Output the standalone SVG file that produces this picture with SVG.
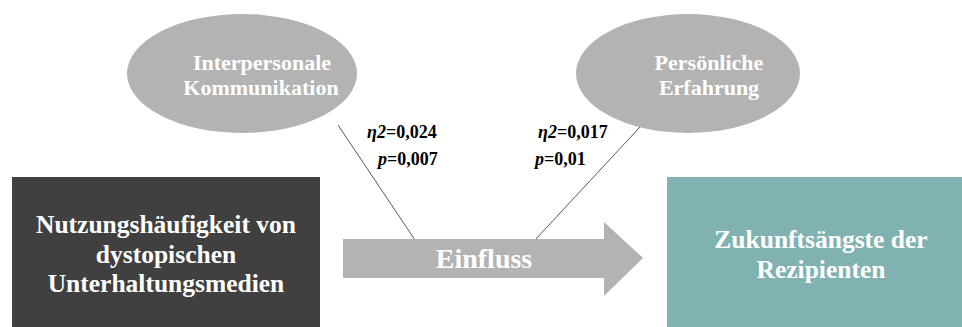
<svg xmlns="http://www.w3.org/2000/svg" width="962" height="327" viewBox="0 0 962 327">
<style>
.t{font-family:"Liberation Serif","Times New Roman",serif;font-weight:bold;text-anchor:middle}
.w{fill:#ffffff}
.ell{fill:#b3b3b3}
.lbl{font-family:"Liberation Serif","Times New Roman",serif;font-weight:bold;font-size:18px;fill:#000000}
.conn{stroke:#595959;stroke-width:1;fill:none}
</style>
<rect width="962" height="327" fill="#ffffff"/>
<g id="connectors">
<line class="conn" x1="338" y1="125" x2="415" y2="240"/>
<line class="conn" x1="640" y1="127" x2="535" y2="240"/>
</g>
<g id="node-interpersonale">
<ellipse class="ell" cx="242" cy="73.5" rx="115" ry="59.5"/>
<text class="t w" x="262" y="70" font-size="22">Interpersonale</text>
<text class="t w" x="261" y="95" font-size="22">Kommunikation</text>
</g>
<g id="node-erfahrung">
<ellipse class="ell" cx="688" cy="73.5" rx="112" ry="59.5"/>
<text class="t w" x="709" y="70" font-size="22">Persönliche</text>
<text class="t w" x="709" y="95" font-size="22">Erfahrung</text>
</g>
<g id="node-nutzung">
<rect x="12" y="177" width="308" height="160" fill="#404040"/>
<text class="t w" x="166" y="233" font-size="25.5">Nutzungshäufigkeit von</text>
<text class="t w" x="166" y="263" font-size="25.5">dystopischen</text>
<text class="t w" x="166" y="292" font-size="25.5">Unterhaltungsmedien</text>
</g>
<g id="node-einfluss">
<polygon points="343,239 604,239 604,222 643,258 604,296 604,278 343,278" fill="#b3b3b3"/>
<text class="t w" x="484" y="268" font-size="28">Einfluss</text>
</g>
<g id="node-zukunft">
<rect x="667" y="177" width="308" height="160" fill="#7fb2b1"/>
<text class="t w" x="821" y="248" font-size="25.5">Zukunftsängste der</text>
<text class="t w" x="821" y="278" font-size="25.5">Rezipienten</text>
</g>
<g id="labels">
<text class="lbl" x="367" y="138"><tspan font-style="italic">η2</tspan>=0,024</text>
<text class="lbl" x="378" y="165"><tspan font-style="italic">p</tspan>=0,007</text>
<text class="lbl" x="538" y="138"><tspan font-style="italic">η2</tspan>=0,017</text>
<text class="lbl" x="535" y="165"><tspan font-style="italic">p</tspan>=0,01</text>
</g>
</svg>
